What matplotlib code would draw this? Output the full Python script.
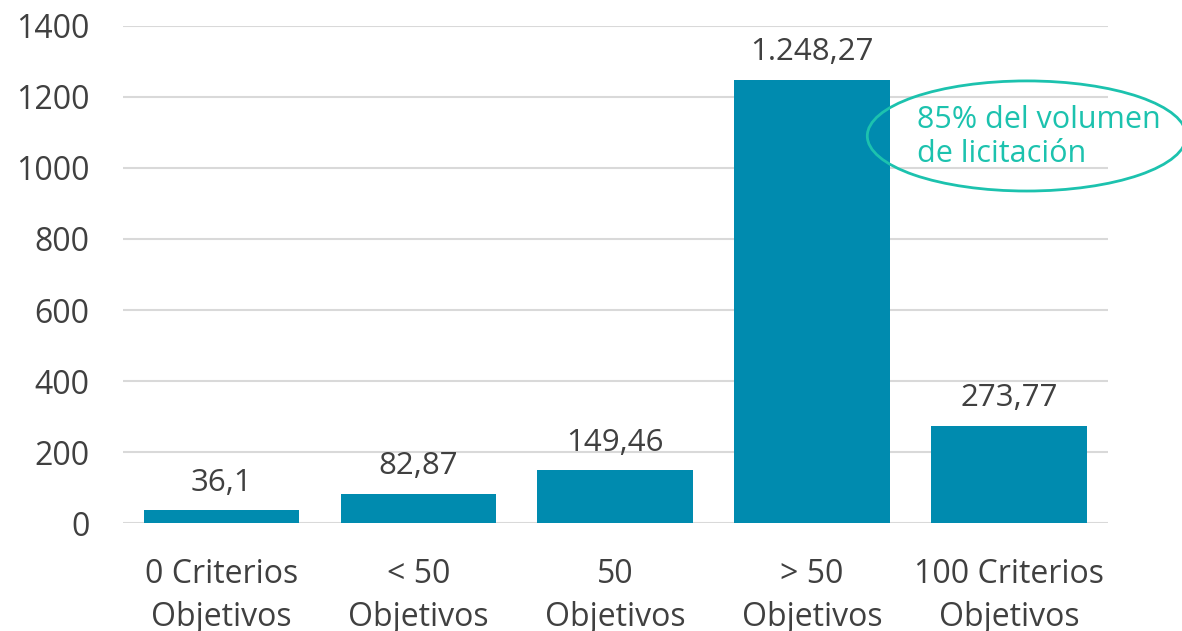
import matplotlib.pyplot as plt
from matplotlib.patches import Ellipse

plt.rcParams['font.family'] = ['Open Sans', 'DejaVu Sans']

# datos
categorias = ['0 Criterios\nObjetivos', '< 50\nObjetivos', '50\nObjetivos',
              '> 50\nObjetivos', '100 Criterios\nObjetivos']
valores = [36.1, 82.87, 149.46, 1248.27, 273.77]
etiquetas = ['36,1', '82,87', '149,46', '1.248,27', '273,77']
yticks = [0, 200, 400, 600, 800, 1000, 1200, 1400]
nota = '85% del volumen\nde licitación'

azul = '#008BAF'
verde = '#1CC2AE'
gris = '#404040'

fig = plt.figure(figsize=(11.82, 6.31), dpi=100)
ax = fig.add_axes([0.104, 0.171, 0.833, 0.788])

x = range(len(categorias))
ax.bar(x, valores, width=0.79, color=azul, zorder=3)

for i, v in enumerate(valores):
    ax.annotate(etiquetas[i], (i, v), xytext=(0, 9), textcoords='offset points',
                ha='center', va='bottom', fontsize=22.5, color=gris)

ax.set_xlim(-0.5, 4.5)
ax.set_ylim(0, 1400)
ax.set_yticks(yticks)
ax.set_xticks(list(x))
ax.set_xticklabels(categorias, fontsize=23, color=gris, linespacing=1.4)
ax.tick_params(axis='y', length=0, pad=24, labelsize=23, labelcolor=gris)
ax.tick_params(axis='x', length=0, pad=25)
ax.grid(axis='y', color='#d9d9d9', linewidth=1.5, zorder=0)
for s in ax.spines.values():
    s.set_visible(False)

# elipse con la nota
el = Ellipse((4.09, 1090), width=1.62, height=310, transform=ax.transData,
             fill=False, edgecolor=verde, linewidth=2, clip_on=False, zorder=4)
ax.add_patch(el)
ax.text(3.53, 1087, nota, color=verde, fontsize=22, ha='left', va='center',
        linespacing=1.18, zorder=5)

fig.savefig('out.png', dpi=100)
